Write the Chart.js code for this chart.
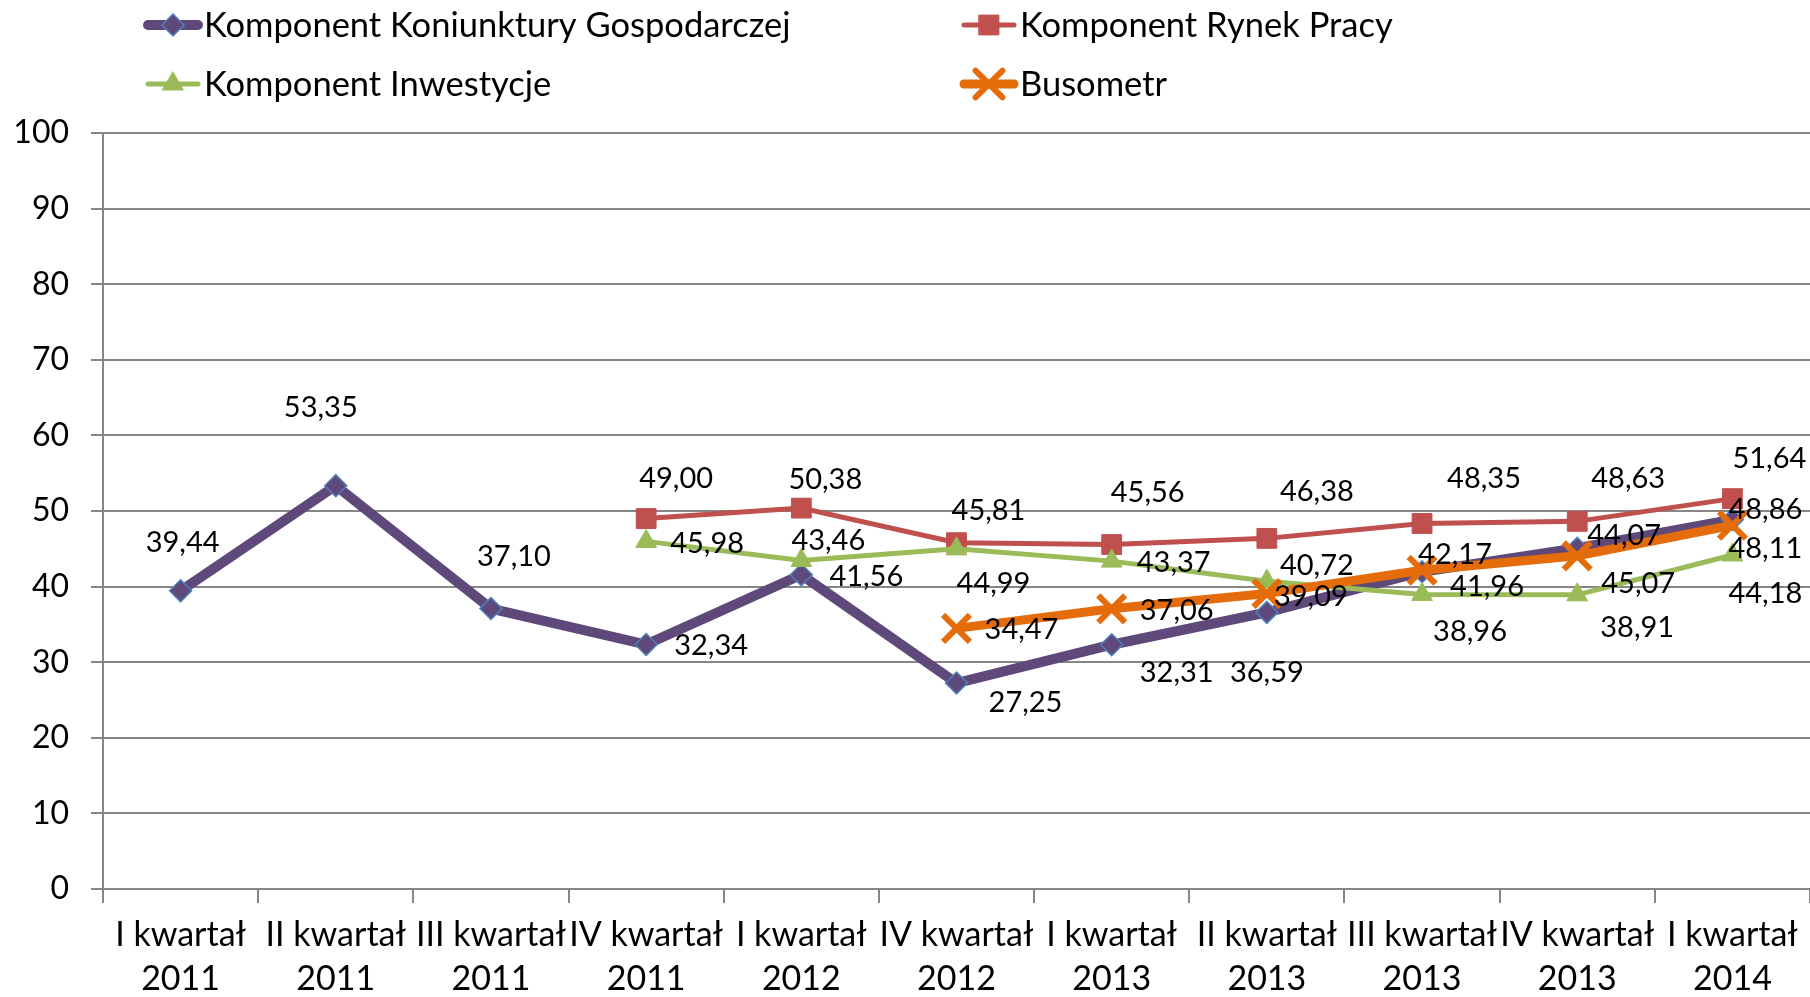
<!DOCTYPE html>
<html>
<head>
<meta charset="utf-8">
<script src="https://cdn.jsdelivr.net/npm/chart.js@4"></script>
<style>
  body { margin: 0; background: #fff; }
  #wrap { width: 1810px; height: 997px; position: relative; }
</style>
</head>
<body>
<div id="wrap"><canvas id="lineChart"></canvas></div>
<script>
const quarters = [
  ['I kwartał', '2011'], ['II kwartał', '2011'], ['III kwartał', '2011'], ['IV kwartał', '2011'],
  ['I kwartał', '2012'], ['IV kwartał', '2012'], ['I kwartał', '2013'], ['II kwartał', '2013'],
  ['III kwartał', '2013'], ['IV kwartał', '2013'], ['I kwartał', '2014']
];
const koniunktura = [39.44, 53.35, 37.10, 32.34, 41.56, 27.25, 32.31, 36.59, 41.96, 45.07, 48.86];
const rynekPracy = [null, null, null, 49.00, 50.38, 45.81, 45.56, 46.38, 48.35, 48.63, 51.64];
const inwestycje = [null, null, null, 45.98, 43.46, 44.99, 43.37, 40.72, 38.96, 38.91, 44.18];
const busometr = [null, null, null, null, null, 34.47, 37.06, 39.09, 42.17, 44.07, 48.11];
const yTicks = [0, 10, 20, 30, 40, 50, 60, 70, 80, 90, 100];

// label offsets (px from the point), one pair per point
const offKoniunktura = [[2,-48],[-15,-78],[23,-52],[65,1],[65,2],[69,20],[65,28],[0,60],[65,15],[61,35],[33,-10]];
const offRynek = [null,null,null,[30,-40],[24,-28],[32,-32],[36,-52],[50,-47],[62,-45],[51,-43],[37,-40]];
const offInwest = [null,null,null,[61,2],[27,-20],[37,35],[62,2],[50,-16],[48,37],[60,33],[33,39]];
const offBuso = [null,null,null,null,null,[65,1],[65,2],[44,3],[33,-16],[47,-20],[33,23]];

const FONT = 'Lato';
const GRID = '#868686';

const fmt = v => v.toFixed(2).replace('.', ',');

const dataLabels = {
  id: 'dataLabels',
  afterDatasetsDraw(chart) {
    const ctx = chart.ctx;
    ctx.save();
    ctx.font = '29px ' + FONT;
    ctx.fillStyle = '#000';
    ctx.textAlign = 'center';
    ctx.textBaseline = 'middle';
    chart.data.datasets.forEach((ds, i) => {
      const meta = chart.getDatasetMeta(i);
      meta.data.forEach((pt, j) => {
        const v = ds.data[j];
        if (v == null) return;
        const off = ds.labelOffsets[j] || [0, -30];
        ctx.fillText(fmt(v), pt.x + off[0], pt.y + off[1]);
      });
    });
    ctx.restore();
  }
};

const customLegend = {
  id: 'customLegend',
  afterDraw(chart) {
    const ctx = chart.ctx;
    const pos = [[144, 25], [960, 25], [144, 84], [960, 84]];
    chart.data.datasets.forEach((ds, i) => {
      const [x, y] = pos[i];
      ctx.save();
      ctx.strokeStyle = ds.borderColor;
      ctx.lineWidth = ds.borderWidth;
      ctx.lineCap = 'round';
      ctx.beginPath();
      ctx.moveTo(x + 4, y);
      ctx.lineTo(x + 54, y);
      ctx.stroke();
      ctx.fillStyle = ds.pointBackgroundColor;
      ctx.strokeStyle = ds.pointBorderColor;
      ctx.lineWidth = ds.pointBorderWidth;
      Chart.helpers.drawPoint(ctx, {
        pointStyle: ds.pointStyle, radius: ds.pointRadius, borderWidth: ds.pointBorderWidth, rotation: 0
      }, x + 29, y);
      ctx.fillStyle = '#000';
      ctx.font = '34.5px ' + FONT;
      ctx.textAlign = 'left';
      ctx.textBaseline = 'middle';
      ctx.fillText(ds.label, x + 60, y + 1);
      ctx.restore();
    });
  }
};

new Chart(document.getElementById('lineChart'), {
  type: 'line',
  data: {
    labels: quarters,
    datasets: [
      {
        label: 'Komponent Koniunktury Gospodarczej',
        data: koniunktura,
        labelOffsets: offKoniunktura,
        borderColor: '#5F497A',
        borderWidth: 10,
        pointStyle: 'rectRot',
        pointRadius: 11,
        pointBackgroundColor: '#5F497A',
        pointBorderColor: '#4F81BD',
        pointBorderWidth: 1.5,
        order: 4
      },
      {
        label: 'Komponent Rynek Pracy',
        data: rynekPracy,
        labelOffsets: offRynek,
        borderColor: '#C0504D',
        borderWidth: 5,
        pointStyle: 'rect',
        pointRadius: 14,
        pointBackgroundColor: '#C0504D',
        pointBorderColor: '#C0504D',
        pointBorderWidth: 1,
        order: 3
      },
      {
        label: 'Komponent Inwestycje',
        data: inwestycje,
        labelOffsets: offInwest,
        borderColor: '#9BBB59',
        borderWidth: 5,
        pointStyle: 'triangle',
        pointRadius: 12,
        pointBackgroundColor: '#9BBB59',
        pointBorderColor: '#9BBB59',
        pointBorderWidth: 1,
        order: 2
      },
      {
        label: 'Busometr',
        data: busometr,
        labelOffsets: offBuso,
        borderColor: '#E46C0A',
        borderWidth: 9,
        pointStyle: 'crossRot',
        pointRadius: 19,
        pointBackgroundColor: '#E46C0A',
        pointBorderColor: '#E46C0A',
        pointBorderWidth: 6,
        order: 1
      }
    ]
  },
  options: {
    responsive: true,
    maintainAspectRatio: false,
    animation: false,
    spanGaps: false,
    layout: { autoPadding: false, padding: { top: 133, right: 0, left: 0, bottom: 0 } },
    elements: { line: { tension: 0 } },
    plugins: {
      legend: { display: false },
      tooltip: { enabled: false }
    },
    scales: {
      x: {
        offset: true,
        grid: {
          offset: true,
          drawOnChartArea: false,
          drawTicks: true,
          tickLength: 14,
          color: GRID,
          lineWidth: 2
        },
        border: { color: GRID, width: 2 },
        ticks: {
          color: '#000',
          font: { family: FONT, size: 34, lineHeight: 1.3 },
          maxRotation: 0,
          autoSkip: false,
          padding: 10
        },
        afterFit(scale) {
          scale.height = 108;
          scale.paddingLeft = 0;
          scale.paddingRight = 0;
        }
      },
      y: {
        min: yTicks[0],
        max: yTicks[yTicks.length - 1],
        afterBuildTicks(scale) { scale.ticks = yTicks.map(v => ({ value: v })); },
        grid: { color: GRID, lineWidth: 2, tickLength: 12 },
        border: { color: GRID, width: 2 },
        ticks: {
          color: '#000',
          font: { family: FONT, size: 32 },
          padding: 22
        },
        afterFit(scale) { scale.width = 103; }
      }
    }
  },
  plugins: [dataLabels, customLegend]
});
</script>
</body>
</html>
